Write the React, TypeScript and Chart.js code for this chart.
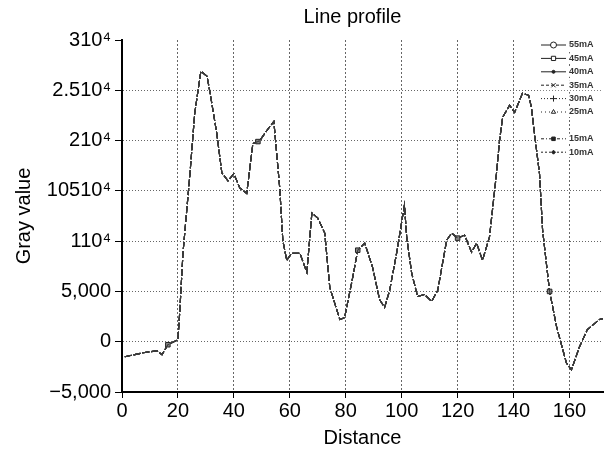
import React, { useEffect, useRef } from "react";
import { Chart, registerables } from "chart.js";
import { drawPoint } from "chart.js/helpers";

Chart.register(...registerables);

const TITLE = "Line profile";
const X_TITLE = "Distance";
const Y_TITLE = "Gray value";

const seriesLabels = ["55mA", "45mA", "40mA", "35mA", "30mA", "25mA", "15mA", "10mA"];

const distance = [
  1, 7.5, 12.5, 14.3, 16.4, 20, 20.7, 21.8, 24.3, 26, 28.2, 30.4, 31.4, 33.9, 35.7, 37.9, 40,
  42.1, 44.6, 46.8, 48.6, 49.3, 51.8, 54.3, 56.4, 57.5, 58.9, 60.7, 63.6, 66.1, 67.9, 70, 72.5,
  74.3, 77.9, 79.6, 80.7, 82.5, 84.3, 86.8, 89.6, 92.1, 93.9, 95.7, 98.2, 101, 101.8, 103.6,
  105.7, 108.2, 110.7, 112.9, 116.1, 117.9, 120, 122.5, 125, 126.8, 128.9, 131.4, 133.9, 135,
  136.1, 138.6, 140.4, 143.2, 145.4, 146.4, 147.5, 149.3, 150.4, 152.9, 155.4, 158.9, 160.7,
  163.6, 166.4, 170.7, 172,
];

const grayValue = [
  -1500, -1100, -900, -1300, -300, 200, 3200, 8800, 16700, 22700, 26900, 26400, 24900, 20700,
  16800, 16000, 16700, 15300, 14750, 19700, 19900, 20000, 21000, 21900, 15300, 10100, 8100, 8800,
  8800, 6900, 12800, 12300, 10800, 5400, 2200, 2400, 3900, 6400, 9100, 9800, 7400, 4200, 3400,
  5100, 8800, 13600, 10400, 6800, 4500, 4700, 4000, 5100, 10100, 10800, 10300, 10600, 8900, 9800,
  8100, 10400, 16700, 20000, 22300, 23500, 22800, 24700, 24500, 23300, 20700, 16700, 11100, 5000,
  1500, -2100, -2800, -500, 1200, 2200, 2300,
];

const markerDistances = [16.4, 48.6, 84.3, 120, 152.9];

const xTickValues = [0, 20, 40, 60, 80, 100, 120, 140, 160];
const yTickValues = [-5000, 0, 5000, 10000, 15000, 20000, 25000, 30000];
const yTickLabels = ["−5,000", "0", "5,000", "110⁴", "10510⁴", "210⁴", "2.510⁴", "310⁴"];

const legendStyles = [
  { dash: [], point: "circle", fill: false, r: 3 },
  { dash: [], point: "rect", fill: false, r: 3 },
  { dash: [], point: "circle", fill: true, r: 1.5 },
  { dash: [3, 2], point: "crossRot", fill: false, r: 3 },
  { dash: [1, 2], point: "cross", fill: false, r: 3 },
  { dash: [1, 3], point: "triangle", fill: false, r: 2.5 },
  { dash: [3, 2, 1, 2], point: "rect", fill: true, r: 2.5 },
  { dash: [2, 2], point: "rectRot", fill: true, r: 2 },
];
const legendRows = [0, 1, 2, 3, 4, 5, 7, 8];

const FONT = "'Liberation Sans', Arial, sans-serif";

const titlePlugin = {
  id: "customTitle",
  afterDraw(chart: any) {
    const { ctx, chartArea } = chart;
    ctx.save();
    ctx.font = `20px ${FONT}`;
    ctx.fillStyle = "#000";
    ctx.textAlign = "center";
    ctx.textBaseline = "middle";
    ctx.fillText(TITLE, (chartArea.left + chartArea.right) / 2 - 10, 17);
    ctx.restore();
  },
};

const legendPlugin = {
  id: "insideLegend",
  afterDraw(chart: any) {
    const { ctx, chartArea } = chart;
    const x0 = chartArea.right - 62;
    const x1 = chartArea.right - 37;
    const xm = (x0 + x1) / 2;
    ctx.save();
    seriesLabels.forEach((label, i) => {
      const st = legendStyles[i];
      const y = chartArea.top + 5 + legendRows[i] * 13.4;
      ctx.fillStyle = "#fff";
      ctx.fillRect(x0 - 2, y - 5, 66, 10);
      ctx.strokeStyle = "#222";
      ctx.lineWidth = 1;
      ctx.setLineDash(st.dash);
      ctx.beginPath();
      ctx.moveTo(x0, y);
      ctx.lineTo(x1, y);
      ctx.stroke();
      ctx.setLineDash([]);
      ctx.fillStyle = st.fill ? "#222" : "#fff";
      drawPoint(ctx, { pointStyle: st.point, radius: st.r, rotation: 0, borderWidth: 1 }, xm, y);
      ctx.fillStyle = "#333";
      ctx.font = `bold 9px ${FONT}`;
      ctx.textAlign = "left";
      ctx.textBaseline = "middle";
      ctx.fillText(label, x1 + 3, y);
    });
    ctx.restore();
  },
};

export default function App() {
  const ref = useRef<HTMLCanvasElement | null>(null);

  useEffect(() => {
    document.body.style.margin = "0";
    const canvas = ref.current;
    if (!canvas) return;
    const points = distance.map((x, i) => ({ x, y: grayValue[i] }));
    const datasets = seriesLabels.map((label, i) => ({
      label,
      data: points,
      borderColor: "#3a3a3a",
      borderWidth: 1.1,
      borderDash: [7, 2],
      tension: 0,
      pointStyle: "rect",
      pointRadius:
        i === 1
          ? (c: any) => (c.raw && markerDistances.includes(c.raw.x) ? 3.2 : 0)
          : 0,
      pointBackgroundColor: "#888",
      pointBorderColor: "#222",
      pointBorderWidth: 1,
    }));

    const chart = new Chart(canvas, {
      type: "line",
      data: { datasets },
      plugins: [titlePlugin, legendPlugin],
      options: {
        animation: false,
        responsive: false,
        layout: { padding: { top: 40, right: 5, left: 0, bottom: 0 } },
        plugins: { legend: { display: false }, tooltip: { enabled: false }, title: { display: false } },
        scales: {
          x: {
            type: "linear",
            min: 0,
            max: 172,
            afterFit(scale: any) {
              scale.height = 67;
            },
            afterBuildTicks(scale: any) {
              scale.ticks = xTickValues.map((v) => ({ value: v }));
            },
            ticks: {
              font: { family: FONT, size: 20 },
              color: "#000",
              padding: 1,
              maxRotation: 0,
              autoSkip: false,
            },
            grid: {
              color: (c: any) => (c.tick && c.tick.value === 0 ? "transparent" : "#666"),
              lineWidth: 1,
              tickColor: "#000",
              tickLength: 6,
            },
            border: { display: true, color: "#000", width: 2, dash: [2, 2] },
            title: {
              display: true,
              text: X_TITLE,
              font: { family: FONT, size: 20 },
              color: "#000",
              padding: { top: 0, bottom: 9 },
            },
          },
          y: {
            type: "linear",
            min: -5000,
            max: 30000,
            afterFit(scale: any) {
              scale.width = 122;
            },
            afterBuildTicks(scale: any) {
              scale.ticks = yTickValues.map((v) => ({ value: v }));
            },
            ticks: {
              font: { family: FONT, size: 20 },
              color: "#000",
              padding: 4,
              autoSkip: false,
              callback: (_v: any, idx: number) => yTickLabels[idx],
            },
            grid: {
              color: (c: any) =>
                c.tick && (c.tick.value === 30000 || c.tick.value === -5000) ? "transparent" : "#666",
              lineWidth: 1,
              tickColor: "#000",
              tickLength: 7,
            },
            border: { display: true, color: "#000", width: 2, dash: [1, 2] },
            title: {
              display: true,
              text: Y_TITLE,
              font: { family: FONT, size: 20 },
              color: "#000",
              padding: { top: 12, bottom: 0 },
            },
          },
        },
      },
    } as any);
    return () => chart.destroy();
  }, []);

  return (
    <div style={{ width: 608, height: 459 }}>
      <canvas ref={ref} width={608} height={459} style={{ display: "block", width: 608, height: 459 }} />
    </div>
  );
}
